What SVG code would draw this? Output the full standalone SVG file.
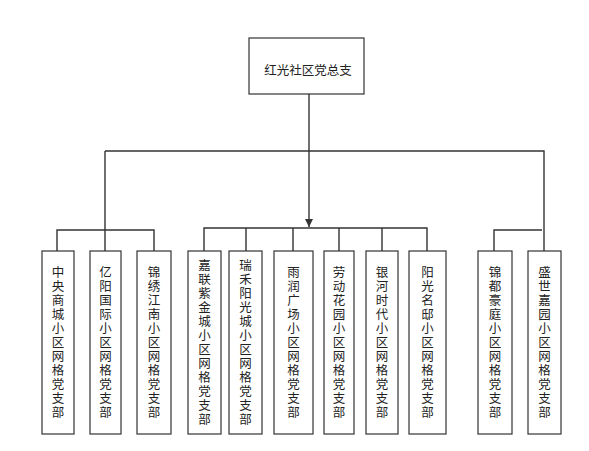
<svg xmlns="http://www.w3.org/2000/svg" width="589" height="451" viewBox="0 0 589 451">
<style>
.box{fill:#fff;stroke:#333;stroke-width:1.2}
.ln{fill:none;stroke:#333;stroke-width:1.4}
text{font-family:"Noto Sans CJK SC","Noto Sans",sans-serif;fill:#222}
.t{font-size:12.5px;text-anchor:middle;dominant-baseline:central}
.v{font-size:12.5px;writing-mode:vertical-rl;text-orientation:upright;letter-spacing:1.5px;text-anchor:middle}
</style>
<defs>
<marker id="arr" viewBox="0 0 10 10" refX="10" refY="5" markerWidth="8" markerHeight="8" markerUnits="userSpaceOnUse" orient="auto">
<path d="M0,0 L10,5 L0,10 z" fill="#333"/>
</marker>
</defs>
<rect width="589" height="451" fill="#fff"/>
<g id="connectors">
<path class="ln" d="M309,94 V227" marker-end="url(#arr)"/>
<path class="ln" d="M105,151 H544 V251"/>
<path class="ln" d="M105,151 V230"/>
<path class="ln" d="M57,251 V230 H154 V251 M105,230 V251"/>
<path class="ln" d="M204,251 V228 H427 V251 M246,228 V251 M293,228 V251 M339,228 V251 M382,228 V251"/>
<path class="ln" d="M494,251 V230 H542"/>
</g>
<g id="root"><rect class="box" x="249" y="38" width="115" height="56"/><text class="t" x="308" y="69">红光社区党总支</text></g>
<g id="n1"><rect class="box" x="42" y="251" width="32" height="183"/><text class="v" x="58" y="343">中央商城小区网格党支部</text></g>
<g id="n2"><rect class="box" x="90" y="251" width="31" height="183"/><text class="v" x="105.5" y="343">亿阳国际小区网格党支部</text></g>
<g id="n3"><rect class="box" x="137" y="251" width="34" height="183"/><text class="v" x="154" y="343">锦绣江南小区网格党支部</text></g>
<g id="n4"><rect class="box" x="188" y="251" width="33" height="183"/><text class="v" x="204.5" y="343">嘉联紫金城小区网格党支部</text></g>
<g id="n5"><rect class="box" x="229" y="251" width="33" height="183"/><text class="v" x="245.5" y="343">瑞禾阳光城小区网格党支部</text></g>
<g id="n6"><rect class="box" x="274" y="251" width="39" height="183"/><text class="v" x="293.5" y="343">雨润广场小区网格党支部</text></g>
<g id="n7"><rect class="box" x="324" y="251" width="30" height="183"/><text class="v" x="339" y="343">劳动花园小区网格党支部</text></g>
<g id="n8"><rect class="box" x="366" y="251" width="32" height="183"/><text class="v" x="382" y="343">银河时代小区网格党支部</text></g>
<g id="n9"><rect class="box" x="409" y="251" width="37" height="183"/><text class="v" x="427.5" y="343">阳光名邸小区网格党支部</text></g>
<g id="n10"><rect class="box" x="478" y="251" width="34" height="183"/><text class="v" x="495" y="343">锦都豪庭小区网格党支部</text></g>
<g id="n11"><rect class="box" x="528" y="251" width="33" height="183"/><text class="v" x="544.5" y="343">盛世嘉园小区网格党支部</text></g>
</svg>
